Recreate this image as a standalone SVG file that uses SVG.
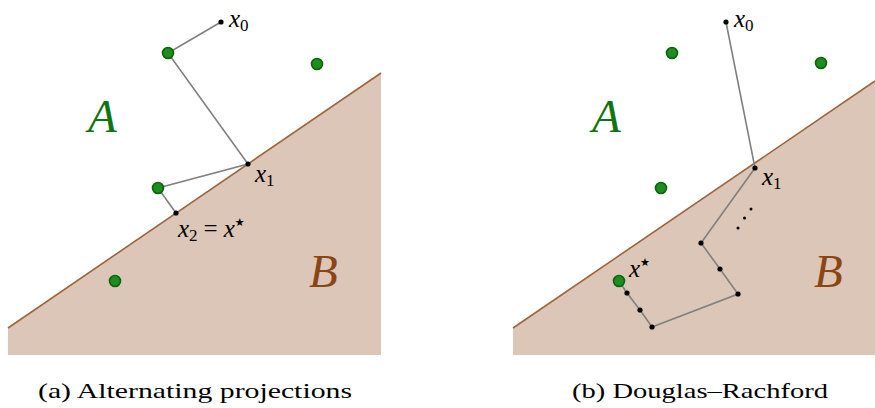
<svg xmlns="http://www.w3.org/2000/svg" width="875" height="408" viewBox="0 0 875 408">
<style>
.setB{fill:#dcc6b7;stroke:none}
.edge{stroke:#a0643c;stroke-width:1.6;fill:none}
.path{stroke:#808080;stroke-width:1.6;fill:none}
.g{fill:#1e8c1e;stroke:#0b650b;stroke-width:1.6}
.d{fill:#000}
.m{font-family:"Liberation Serif",serif;font-style:italic;font-size:25px;fill:#000}
.sub{font-family:"Liberation Serif",serif;font-style:normal;font-size:17px;fill:#000}
.sup{font-family:"DejaVu Sans",sans-serif;font-style:normal;font-size:11px;fill:#000}
.eq{font-family:"Liberation Serif",serif;font-style:normal;font-size:25px;fill:#000}
.A{font-family:"Liberation Serif",serif;font-style:italic;font-size:47px;fill:#107510}
.B{font-family:"Liberation Serif",serif;font-style:italic;font-size:47px;fill:#8b4513}
.cap{font-family:"Liberation Serif",serif;font-size:22px;fill:#000}
</style>
<g id="panel-a">
<g id="setB-a">
<polygon class="setB" points="8,328 381,73 381,355 8,355"/>
<line class="edge" x1="8" y1="328" x2="381" y2="73"/>
</g>
<g id="connectors-a">
<polyline class="path" points="221,22 168,53 248,164 158,188 176,213"/>
</g>
<g id="points-a">
<circle class="g" cx="168" cy="53" r="5.5"/>
<circle class="g" cx="317" cy="64" r="5.5"/>
<circle class="g" cx="158" cy="188" r="5.5"/>
<circle class="g" cx="115" cy="281" r="5.5"/>
<circle class="d" cx="221" cy="22" r="2.6"/>
<circle class="d" cx="248" cy="164" r="2.6"/>
<circle class="d" cx="176" cy="213" r="2.6"/>
</g>
<g id="labels-a">
<text class="m" x="229" y="27">x<tspan class="sub" dy="4">0</tspan></text>
<text class="m" x="255" y="182">x<tspan class="sub" dy="4">1</tspan></text>
<text class="m" x="178" y="237">x<tspan class="sub" dy="4">2</tspan><tspan class="eq" dy="-4" dx="6">=</tspan><tspan dx="6">x</tspan><tspan class="sup" dy="-11">★</tspan></text>
<text class="A" x="88" y="132">A</text>
<text class="B" x="309" y="287">B</text>
</g>
<text class="cap" x="38" y="398" textLength="314" lengthAdjust="spacingAndGlyphs">(a) Alternating projections</text>
</g>
<g id="panel-b">
<g id="setB-b">
<polygon class="setB" points="513,328 875,81 875,355 513,355"/>
<line class="edge" x1="513" y1="328" x2="875" y2="81"/>
</g>
<g id="connectors-b">
<polyline class="path" points="726,22 755,168 701,243 720,269 738,294 652,327 640,310 627,293 619,281"/>
</g>
<g id="points-b">
<circle class="g" cx="672" cy="53" r="5.5"/>
<circle class="g" cx="821" cy="63" r="5.5"/>
<circle class="g" cx="661" cy="188" r="5.5"/>
<circle class="g" cx="619" cy="281" r="5.5"/>
<circle class="d" cx="726" cy="22" r="2.6"/>
<circle class="d" cx="755" cy="168" r="2.6"/>
<circle class="d" cx="701" cy="243" r="2.6"/>
<circle class="d" cx="720" cy="269" r="2.6"/>
<circle class="d" cx="738" cy="294" r="2.6"/>
<circle class="d" cx="652" cy="327" r="2.6"/>
<circle class="d" cx="640" cy="310" r="2.6"/>
<circle class="d" cx="627" cy="293" r="2.6"/>
<circle class="d" cx="738" cy="228" r="1.5"/>
<circle class="d" cx="744.5" cy="218" r="1.5"/>
<circle class="d" cx="751" cy="209" r="1.5"/>
</g>
<g id="labels-b">
<text class="m" x="734" y="27">x<tspan class="sub" dy="4">0</tspan></text>
<text class="m" x="762" y="185">x<tspan class="sub" dy="4">1</tspan></text>
<text class="m" x="629" y="277">x<tspan class="sup" dy="-11">★</tspan></text>
<text class="A" x="592" y="132">A</text>
<text class="B" x="814" y="287">B</text>
</g>
<text class="cap" x="572" y="398" textLength="256" lengthAdjust="spacingAndGlyphs">(b) Douglas–Rachford</text>
</g>
</svg>
